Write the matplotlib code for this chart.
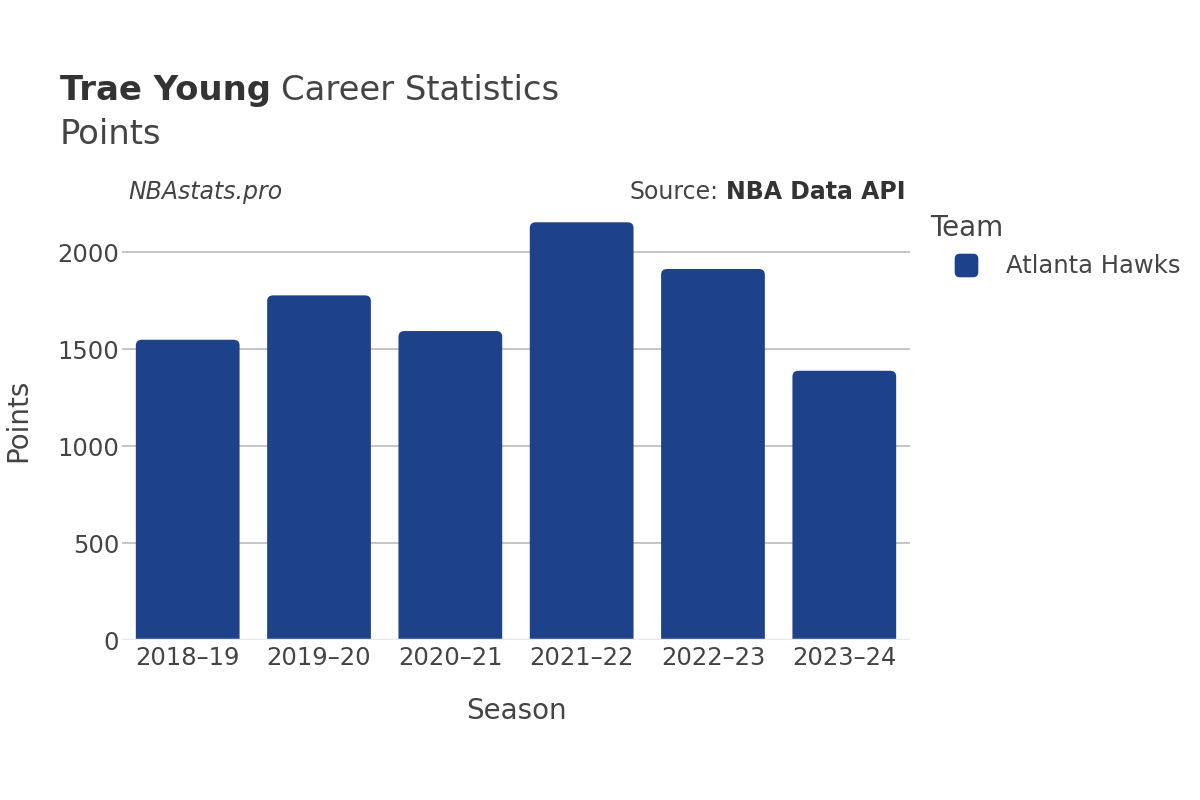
import matplotlib
matplotlib.use("Agg")
import matplotlib.pyplot as plt
from matplotlib.patches import FancyBboxPatch
from matplotlib.lines import Line2D

seasons = ["2018–19", "2019–20", "2020–21", "2021–22", "2022–23", "2023–24"]
points = [1549, 1778, 1594, 2155, 1914, 1389]
team = "Atlanta Hawks"
bar_color = "#1d4289"
text_color = "#444444"

plt.rcParams['font.family'] = ['DejaVu Sans']

fig = plt.figure(figsize=(12, 8), dpi=100)
ax = fig.add_axes([0.1017, 0.2, 0.6566, 0.55])

x = list(range(len(seasons)))
bars = ax.bar(x, points, width=0.79, color=bar_color)

# swap the plain bars for ones with rounded tops
for b in bars:
    b.set_visible(False)
    bx, bw, bh = b.get_x(), b.get_width(), b.get_height()
    r = 0.045
    asp = 660
    patch = FancyBboxPatch((bx, -r * asp), bw, bh + r * asp,
                           boxstyle="round,pad=0,rounding_size=%f" % r,
                           mutation_aspect=asp, facecolor=bar_color,
                           edgecolor="none", zorder=3)
    ax.add_patch(patch)

ax.set_xlim(-0.5, len(seasons) - 0.5)
ax.set_ylim(0, 2270)
ax.set_yticks([0, 500, 1000, 1500, 2000])
ax.set_xticks(x)
ax.set_xticklabels(seasons)
ax.grid(axis='y', color='#bbbbbb', linewidth=1.2, zorder=0)
ax.set_axisbelow(True)
for s in ax.spines.values():
    s.set_visible(False)
ax.axhline(0, color='#e8e8ee', linewidth=2.5, zorder=4)
ax.tick_params(axis='both', length=0, labelsize=17.5, labelcolor=text_color)
ax.tick_params(axis='x', pad=4)
ax.tick_params(axis='y', pad=2)

ax.set_xlabel("Season", fontsize=20, color=text_color, labelpad=20)
ax.set_ylabel("Points", fontsize=20, color=text_color, labelpad=18)

# title made of a bold part and a normal part
t1 = fig.text(0.05, 0.875, "Trae Young", fontsize=24.4, fontweight='bold',
              color='#333333', va='baseline')
fig.canvas.draw()
bb = t1.get_window_extent()
fig.text(bb.x1 / 1200 + 0.008, 0.875, "Career Statistics", fontsize=24.4,
         color=text_color, va='baseline')
fig.text(0.05, 0.82, "Points", fontsize=24.4, color=text_color, va='baseline')

fig.text(0.107, 0.751, "NBAstats.pro", fontsize=17, style='italic',
         color=text_color, va='baseline')
s2 = fig.text(0.755, 0.751, "NBA Data API", fontsize=17, fontweight='bold',
              color='#333333', va='baseline', ha='right')
fig.canvas.draw()
bb2 = s2.get_window_extent()
fig.text(bb2.x0 / 1200 - 0.0065, 0.751, "Source:", fontsize=17,
         color=text_color, va='baseline', ha='right')

# legend with a rounded square swatch
sq = FancyBboxPatch((-0.5, -0.5), 1, 1, boxstyle="round,pad=0,rounding_size=0.2")
handle = Line2D([], [], linestyle='none', marker=sq.get_path(), markersize=16,
                markerfacecolor=bar_color, markeredgecolor=bar_color)
fig.text(0.775, 0.705, "Team", fontsize=20, color=text_color, va='baseline')
leg = fig.legend([handle], [team], loc='center left',
                 bbox_to_anchor=(0.785, 0.667), frameon=False, fontsize=17.5,
                 handletextpad=0.63, borderaxespad=0, borderpad=0)
for t in leg.get_texts():
    t.set_color(text_color)

fig.savefig("out.png", dpi=100, facecolor='white')
